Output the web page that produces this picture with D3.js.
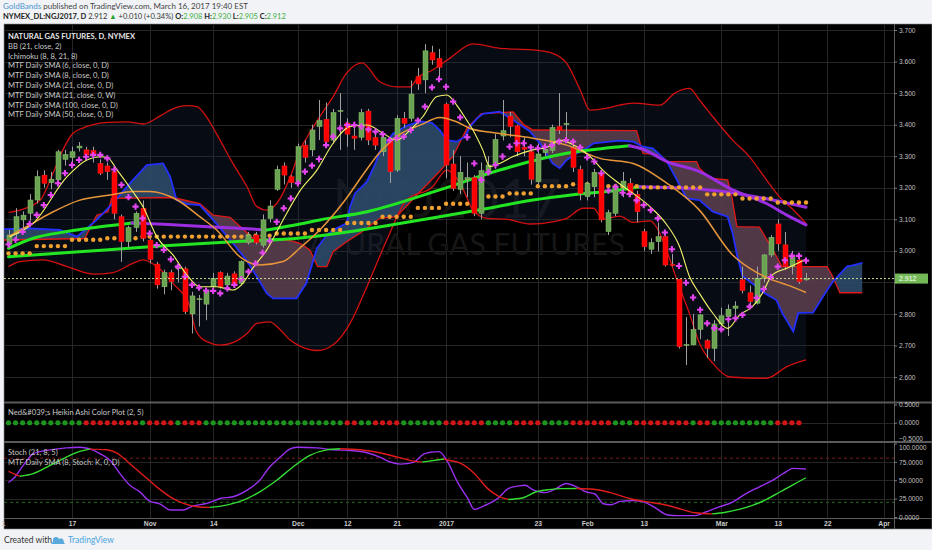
<!DOCTYPE html>
<html><head><meta charset="utf-8">
<script src="https://cdn.jsdelivr.net/npm/d3@7"></script>
<style>body{margin:0;background:#f1f3f6;}svg{display:block}</style>
</head><body>
<svg id="c" width="932" height="550"></svg>
<script>
// ---------- DATA ----------
const opens=[3.022,3.055,3.098,3.119,3.161,3.240,3.216,3.225,3.290,3.296,3.326,3.320,3.318,3.277,3.269,3.251,3.108,3.029,3.074,3.135,3.034,2.958,2.886,2.931,2.943,2.943,2.800,2.845,2.831,2.886,2.931,2.892,2.927,2.897,3.026,3.050,3.018,3.103,3.195,3.269,3.235,3.219,3.335,3.320,3.394,3.417,3.351,3.442,3.405,3.364,3.360,3.443,3.359,3.314,3.349,3.256,3.420,3.420,3.552,3.542,3.628,3.610,3.465,3.275,3.195,3.225,3.232,3.119,3.254,3.277,3.364,3.427,3.396,3.328,3.314,3.219,3.311,3.318,3.394,3.400,3.328,3.258,3.172,3.203,3.246,3.061,3.119,3.203,3.214,3.179,3.061,3.005,3.029,3.045,2.957,2.910,2.700,2.702,2.751,2.715,2.691,2.768,2.791,2.818,2.908,2.867,2.834,2.913,2.987,3.085,3.019,2.950,2.971,2.908];
const highs=[3.066,3.135,3.125,3.180,3.255,3.255,3.250,3.320,3.320,3.330,3.345,3.330,3.330,3.290,3.280,3.260,3.115,3.080,3.125,3.160,3.040,2.965,2.940,2.940,2.960,2.950,2.870,2.860,2.880,2.930,2.935,2.930,2.935,2.970,3.060,3.060,3.115,3.160,3.270,3.280,3.240,3.340,3.350,3.400,3.478,3.470,3.450,3.500,3.420,3.400,3.450,3.450,3.370,3.370,3.360,3.430,3.440,3.540,3.580,3.655,3.650,3.640,3.470,3.320,3.300,3.280,3.240,3.280,3.300,3.370,3.478,3.440,3.400,3.360,3.330,3.340,3.340,3.400,3.500,3.440,3.340,3.270,3.220,3.260,3.250,3.130,3.210,3.250,3.230,3.190,3.070,3.040,3.090,3.050,2.990,2.910,2.790,2.800,2.800,2.720,2.780,2.820,2.830,2.840,2.950,2.890,2.950,2.990,3.050,3.100,3.060,3.000,2.980,2.930];
const lows=[3.008,3.040,3.070,3.095,3.150,3.200,3.195,3.215,3.270,3.280,3.315,3.295,3.280,3.240,3.225,3.100,2.965,3.010,3.060,3.030,2.960,2.880,2.862,2.875,2.900,2.800,2.738,2.760,2.780,2.870,2.880,2.875,2.885,2.890,3.020,3.020,3.010,3.090,3.190,3.210,3.200,3.210,3.280,3.300,3.351,3.335,3.340,3.320,3.330,3.320,3.350,3.335,3.320,3.300,3.215,3.250,3.390,3.410,3.510,3.500,3.590,3.550,3.230,3.190,3.180,3.170,3.110,3.100,3.240,3.260,3.350,3.360,3.300,3.300,3.210,3.210,3.300,3.310,3.370,3.350,3.250,3.160,3.160,3.170,3.090,3.050,3.110,3.170,3.170,3.090,3.000,2.990,2.998,2.950,2.950,2.690,2.638,2.700,2.720,2.660,2.650,2.760,2.730,2.780,2.865,2.820,2.830,2.900,2.980,3.000,2.940,2.925,2.895,2.905];
const closes=[3.050,3.108,3.113,3.161,3.235,3.214,3.227,3.314,3.305,3.314,3.332,3.304,3.306,3.246,3.251,3.119,3.029,3.074,3.119,3.040,2.973,2.892,2.931,2.902,2.952,2.807,2.857,2.848,2.871,2.913,2.886,2.920,2.892,2.966,3.050,3.026,3.098,3.142,3.258,3.240,3.216,3.330,3.296,3.383,3.413,3.346,3.438,3.445,3.370,3.357,3.438,3.351,3.335,3.360,3.251,3.420,3.404,3.497,3.529,3.634,3.605,3.582,3.272,3.198,3.249,3.232,3.119,3.254,3.272,3.353,3.381,3.394,3.314,3.322,3.227,3.307,3.322,3.391,3.383,3.404,3.265,3.182,3.214,3.249,3.098,3.121,3.201,3.221,3.182,3.124,3.013,3.026,3.045,2.955,2.955,2.696,2.703,2.751,2.797,2.691,2.768,2.794,2.815,2.825,2.874,2.839,2.913,2.987,3.043,3.022,2.950,2.979,2.902,2.912];
// MTF SMA(6) crosses, one per bar
const sma6=[3.020,3.035,3.060,3.085,3.114,3.145,3.177,3.214,3.246,3.272,3.288,3.298,3.304,3.304,3.293,3.258,3.209,3.170,3.140,3.103,3.055,3.018,3.003,2.973,2.950,2.918,2.892,2.883,2.874,2.873,2.865,2.881,2.892,2.910,2.934,2.960,2.994,3.032,3.092,3.135,3.166,3.214,3.251,3.270,3.291,3.335,3.362,3.388,3.399,3.399,3.394,3.385,3.378,3.370,3.351,3.357,3.362,3.383,3.413,3.457,3.518,3.544,3.520,3.473,3.423,3.360,3.277,3.225,3.249,3.272,3.299,3.330,3.341,3.341,3.328,3.325,3.330,3.335,3.346,3.351,3.346,3.328,3.296,3.283,3.246,3.191,3.203,3.184,3.180,3.160,3.145,3.129,3.103,3.058,3.005,2.952,2.899,2.852,2.813,2.770,2.755,2.751,2.783,2.786,2.797,2.823,2.851,2.879,2.917,2.950,2.970,2.984,2.984,2.969];
// [bar, value] readings of the indicator lines
const sma8=[[0.2,3.045],[3.5,3.087],[8.3,3.235],[11.1,3.288],[13,3.298],[14,3.296],[15.4,3.256],[17.6,3.188],[19.1,3.138],[21,3.045],[23.3,2.987],[25.3,2.923],[27.1,2.886],[29.5,2.886],[31.8,2.876],[33.2,2.897],[34.6,2.945],[36.6,3.003],[38.9,3.098],[41.3,3.19],[43.7,3.256],[46,3.341],[48.4,3.394],[50.8,3.399],[53.1,3.372],[55,3.351],[56.9,3.383],[58.7,3.425],[60.7,3.489],[62.1,3.494],[63.5,3.462],[64.9,3.415],[65.8,3.383],[67.2,3.32],[68.2,3.267],[69.6,3.277],[71.5,3.299],[74.3,3.32],[76.3,3.328],[78.1,3.351],[80.5,3.33],[82.4,3.299],[84.2,3.256],[86.2,3.219],[88.5,3.182],[90.9,3.14],[93.3,3.082],[95.1,3.013],[96.5,2.918],[97.9,2.865],[99.8,2.802],[101.9,2.754],[103.6,2.797],[105.4,2.823],[106.8,2.865],[108.2,2.923],[110.3,2.945],[113,2.973]];
const sma21=[[0,3.045],[2.6,3.077],[6,3.12],[10,3.16],[14.4,3.177],[17.7,3.188],[20,3.188],[23.9,3.161],[27,3.11],[29.5,3.066],[32.8,2.981],[35.6,2.955],[38.9,2.966],[41.3,3.009],[44.1,3.066],[47.7,3.161],[50.5,3.25],[52.5,3.309],[55.5,3.37],[58.5,3.40],[61.1,3.423],[63.5,3.409],[65.4,3.388],[69.6,3.372],[74.3,3.357],[79.1,3.335],[83.8,3.293],[88.5,3.277],[93.3,3.214],[97.9,3.129],[102.6,2.987],[105,2.945],[108.2,2.908],[110.3,2.892],[113,2.868]];
const sma50=[[0,3.008],[3.5,3.040],[8.3,3.061],[13,3.076],[17.5,3.088],[22,3.084],[27,3.078],[32,3.072],[36.6,3.066],[41.3,3.085],[44.1,3.098],[50.8,3.124],[61.1,3.193],[69.6,3.256],[79.1,3.309],[86.6,3.330],[88,3.333],[89.9,3.322],[93.3,3.283],[97.9,3.251],[102.6,3.193],[107.4,3.15],[110.3,3.113],[113,3.082]];
const sma100=[[0,2.981],[10,2.997],[21.5,3.015],[33,3.03],[41.3,3.041],[48,3.06],[55,3.085],[61.1,3.108],[68,3.135],[74.3,3.161],[80,3.178],[86.6,3.193],[89.5,3.203],[93,3.201],[97,3.197],[101,3.189],[105,3.175],[109,3.158],[113,3.138]];
// MTF weekly SMA(21): first bar of each week and its value
const weekFirstBar=[0,4,9,14,19,24,29,34,38,43,48,53,58,62,66,71,75,80,85,90,95,99,104,109];
const weekSma21=[2.992,3.015,3.035,3.040,3.045,3.045,3.045,3.048,3.055,3.066,3.088,3.108,3.136,3.149,3.172,3.182,3.205,3.211,3.205,3.201,3.201,3.179,3.166,3.153];
const bbUpper=[[0,3.122],[1.6,3.129],[4.5,3.161],[6.3,3.246],[7.7,3.320],[9.1,3.372],[10.6,3.39],[12,3.400],[14,3.407],[16.8,3.409],[19.1,3.402],[21.5,3.428],[23.3,3.450],[25.3,3.460],[26.7,3.457],[28.1,3.423],[29.5,3.370],[31.8,3.277],[33.8,3.203],[35.2,3.140],[36.6,3.129],[38,3.150],[40.3,3.256],[41.3,3.320],[42.3,3.36],[44.1,3.425],[46,3.489],[47.9,3.563],[50.1,3.596],[52.6,3.536],[55,3.520],[56.9,3.520],[57.9,3.547],[60.1,3.573],[62.5,3.610],[65.8,3.656],[69.6,3.642],[74.3,3.637],[77.1,3.626],[79.1,3.594],[81,3.510],[82.4,3.446],[84.8,3.452],[86.6,3.462],[88.5,3.468],[92.3,3.462],[94.4,3.50],[96.5,3.515],[97.9,3.478],[99.8,3.425],[102.6,3.351],[105,3.298],[107.4,3.225],[109.2,3.172],[111.2,3.130],[113,3.087]];
const bbLower=[[0,2.950],[1.6,2.966],[4.9,2.971],[8.3,2.950],[12,2.926],[14.8,2.931],[17.6,2.960],[19.1,2.971],[21,2.950],[23.3,2.897],[25.7,2.823],[26.5,2.75],[28.1,2.712],[30,2.701],[31.8,2.709],[33.8,2.738],[35.2,2.77],[37,2.775],[38.5,2.75],[39.9,2.717],[41.3,2.698],[43.8,2.684],[46,2.702],[48.4,2.770],[50.8,2.887],[53.6,3.034],[56.4,3.161],[60.1,3.203],[62.1,3.256],[64,3.214],[65.8,3.130],[67.8,3.103],[70.6,3.100],[73.9,3.085],[77.1,3.092],[79.1,3.103],[81.4,3.135],[82.9,3.135],[84.2,3.100],[86.6,3.110],[88.5,3.09],[90.9,3.095],[92.3,3.055],[93.3,2.998],[94.7,2.908],[96.5,2.80],[97.9,2.707],[99.8,2.643],[102.2,2.60],[107.4,2.596],[110.3,2.633],[113,2.654]];
const ichiA=[[-1.2,3.068],[3,3.071],[7.3,3.066],[9.7,3.045],[12.5,3.098],[14.8,3.151],[17.2,3.214],[19.6,3.272],[21.9,3.277],[22.9,3.235],[23.8,3.161],[25.3,3.148],[27.1,3.145],[29,3.098],[31.8,3.024],[33.7,2.971],[35.2,2.918],[36.6,2.865],[37.5,2.849],[40.8,2.849],[42.2,2.897],[43.7,3.008],[45.1,3.050],[46,3.066],[47.9,3.087],[48.4,3.14],[49.1,3.182],[50.8,3.219],[52,3.277],[52.6,3.314],[54.5,3.372],[56.4,3.396],[58.3,3.41],[60,3.406],[61.1,3.383],[62.1,3.351],[63.5,3.346],[64.7,3.362],[65.4,3.394],[66.4,3.42],[67.2,3.434],[69.6,3.441],[71.5,3.415],[73.9,3.378],[75.3,3.341],[77.1,3.277],[78.1,3.262],[79.1,3.288],[80.5,3.309],[81.9,3.325],[82.9,3.341],[86.6,3.349],[88.5,3.346],[89.9,3.330],[91.3,3.325],[93.3,3.283],[94.7,3.225],[96.1,3.166],[97.9,3.161],[99.8,3.124],[101.9,3.108],[102.6,3.056],[103.2,2.99],[104,2.92],[106,2.886],[106.8,2.87],[108.8,2.844],[109.7,2.80],[111.2,2.744],[111.9,2.803],[114,2.804],[116,2.876],[116.8,2.902],[118.8,2.950],[119.6,2.954],[121,2.962]];
const ichiB=[[-1.2,3.034],[10.8,3.039],[12.5,3.113],[14.1,3.124],[14.6,3.166],[23.3,3.169],[27.1,3.150],[29,3.113],[31.4,3.106],[34.7,3.039],[39.9,3.032],[41.3,3.024],[42.7,3.003],[43.8,2.950],[45.1,2.950],[46,2.997],[47.9,3.029],[49.8,3.056],[52.6,3.103],[55,3.108],[58,3.18],[61,3.25],[63,3.30],[65,3.39],[67,3.435],[71.5,3.44],[73,3.40],[74.3,3.383],[89,3.381],[89.9,3.309],[92.3,3.304],[93.3,3.283],[97.5,3.283],[97.9,3.262],[99.4,3.230],[101.9,3.225],[102.5,3.172],[103.2,3.077],[106.4,3.075],[108.2,3.008],[109.6,2.950],[116,2.950],[116.8,2.918],[117.8,2.867],[121,2.867]];
// Heikin Ashi colour per bar
const haColors="GGGGGGGGGGGRRRRRRRRGRRRRGRRRGGGGGGGGGGGGGGGGGGGGRRGGRRRRGGGGGGRRRRRRGGGGRRRRGGGGRRRRRRGGGRRRRRRRRGRRGGGGGGGGGRRRR".split("");
const stochK=[[0,47],[0.7,52.3],[2.1,70.3],[3.5,86],[5.9,91.4],[8.2,94.1],[10.1,95],[11.5,92.8],[13,86],[14.4,77],[15.8,59],[17.2,43.2],[18.6,34.2],[20,21.6],[21.5,17.6],[22.9,9.5],[24.7,9.5],[26.1,14.9],[28.1,18.5],[30,25.2],[31.8,27.5],[33.8,36.5],[35.6,50],[37,68],[38.5,81.5],[39.9,92.8],[40.9,95],[43.7,94.1],[46,91.4],[48.4,90.5],[50.8,87.4],[52.6,81.5],[54.1,74.8],[55.5,72],[57.4,74.4],[58.8,85.4],[59.8,88.1],[61,89],[62.2,75.3],[63.6,47.8],[65.1,24.9],[66,10.3],[67.5,15.7],[69.4,25.8],[70.8,38.6],[72.3,42.3],[73.2,43.2],[74.2,37.7],[76.1,33.1],[77.6,38.6],[79,45.5],[80.5,41],[81.9,34],[83.1,31.3],[84.3,18],[85.3,16.6],[86.7,21.2],[88.6,22.5],[90.1,20.3],[91.5,13.4],[93.4,2.8],[94.9,1.9],[97.3,1.9],[98.7,6.5],[100.6,13.4],[102.6,20.3],[104.5,31.8],[106.4,41],[108.3,50.1],[109.8,59.3],[111.2,66.2],[113,65.3]];
const stochSma=[[0,62],[1.6,55.4],[3.5,59],[5.9,70.3],[8.2,81.5],[10.1,89.2],[11.5,92.3],[13.9,91.4],[15.3,87.4],[17.2,72.5],[19.1,56.8],[21,41],[22.9,27.5],[24.8,18.5],[26.7,14],[28.5,13.1],[30.9,16.2],[33.3,23],[35.6,34.2],[38,50],[40.3,68],[42.7,83.8],[45.1,91.4],[47,92.8],[49.8,91.4],[52.6,87.4],[55.5,80.5],[57.9,75.3],[58.6,74.6],[61.7,79],[62.2,77.6],[64.1,73],[66,59.3],[67.9,38.6],[69.4,28.5],[70.8,23.9],[72.8,25.8],[74.7,34],[76.6,37.3],[78.5,38.6],[80.5,38.8],[82.9,37.7],[85.3,33.1],[88.1,24.9],[90.1,21.2],[93,16.6],[95.4,10.3],[97.3,5.7],[99.7,4.2],[101.6,6.5],[103.5,10.3],[105.4,15.7],[107.4,23.9],[109.3,34],[111.2,44.2],[113,53.4]];
const priceTicks=[2.6,2.7,2.8,2.9,3.0,3.1,3.2,3.3,3.4,3.5,3.6,3.7];
const haTicks=[0.5,0,-0.5];
const stochTicks=[100,75,50,25,0];
const xTickLabels=["1","17","Nov","14","Dec","12","21","2017","23","Feb","13","Mar","13","22","Apr"];
const xTickBars=[-0.78,9,20,29,41,48,55,62,75,82,90,101,109,116,124];
const lastPrice=2.912;
const legendLines=["BB (21, close, 2)","Ichimoku (8, 8, 21, 8)","MTF Daily SMA (6, close, 0, D)","MTF Daily SMA (8, close, 0, D)","MTF Daily SMA (21, close, 0, D)","MTF Daily SMA (21, close, 0, W)","MTF Daily SMA (100, close, 0, D)","MTF Daily SMA (50, close, 0, D)"];

// ---------- LAYOUT ----------
const W=932,H=550,L=4,R=894,T=24,MB=401;
const FONT="Lato, 'Liberation Sans', sans-serif";
const svg=d3.select("#c");
const x=d3.scaleLinear().domain([0,113]).range([8.5,806]);
const y=d3.scaleLinear().domain([2.6,3.7]).range([377,30]);
const yHA=d3.scaleLinear().domain([-0.5,0.5]).range([441,404.5]);
const yS=d3.scaleLinear().domain([0,100]).range([517,443.5]);

svg.append("rect").attr("width",W).attr("height",H).attr("fill","#f1f3f6");
svg.append("rect").attr("x",L).attr("y",T).attr("width",W-L).attr("height",529-T).attr("fill","#000").attr("stroke","#8a8a8a").attr("stroke-width",0.6);

const defs=svg.append("defs");
defs.append("clipPath").attr("id","cm").append("rect").attr("x",L).attr("y",T).attr("width",R-L).attr("height",MB-T);
defs.append("clipPath").attr("id","cs").append("rect").attr("x",L).attr("y",443).attr("width",R-L).attr("height",75);

// grid
const grid=svg.append("g").attr("stroke","#262626").attr("stroke-width",1);
xTickBars.slice(1).forEach(b=>grid.append("line").attr("x1",Math.round(x(b))+0.5).attr("x2",Math.round(x(b))+0.5).attr("y1",T).attr("y2",518));
priceTicks.forEach(p=>grid.append("line").attr("x1",L).attr("x2",R).attr("y1",Math.round(y(p))+0.5).attr("y2",Math.round(y(p))+0.5));
[75,50,25].forEach(v=>grid.append("line").attr("x1",L).attr("x2",R).attr("y1",Math.round(yS(v))+0.5).attr("y2",Math.round(yS(v))+0.5));
grid.append("line").attr("x1",L).attr("x2",R).attr("y1",Math.round(yHA(0))+0.5).attr("y2",Math.round(yHA(0))+0.5);

// watermark
svg.append("text").attr("x",447).attr("y",218).attr("text-anchor","middle").attr("font-family",FONT).attr("font-size",54).attr("fill","#131313").text("NGJ2017");
svg.append("text").attr("x",455).attr("y",255).attr("text-anchor","middle").attr("font-family",FONT).attr("font-size",30).attr("fill","#161616").text("NATURAL GAS FUTURES");

const gm=svg.append("g").attr("clip-path","url(#cm)");
const X=d=>x(d[0]), Y=d=>y(d[1]);
const lineM=d3.line().x(X).y(Y).curve(d3.curveMonotoneX);
const lineL=d3.line().x(X).y(Y);

// BB background
const bbPoly=lineL(bbUpper)+"L"+lineL(bbLower.slice().reverse()).slice(1)+"Z";
gm.append("path").attr("d",bbPoly).attr("fill","#1a3050").attr("opacity",0.25);

// Ichimoku cloud (difference fill)
const clipAbove=d3.area().x(X).y0(0).y1(Y);
const clipBelow=d3.area().x(X).y0(H).y1(Y);
defs.append("clipPath").attr("id","ca").append("path").attr("d",clipAbove(ichiA));
defs.append("clipPath").attr("id","cb").append("path").attr("d",clipBelow(ichiA));
gm.append("g").attr("clip-path","url(#ca)").append("path").attr("d",d3.area().x(X).y0(H).y1(Y)(ichiB)).attr("fill","#5a3d4d").attr("opacity",0.9);
gm.append("g").attr("clip-path","url(#cb)").append("path").attr("d",d3.area().x(X).y0(0).y1(Y)(ichiB)).attr("fill","#2c4a69").attr("opacity",0.9);
gm.append("path").attr("d",lineL(ichiB)).attr("fill","none").attr("stroke","#e01818").attr("stroke-width",1.3);
gm.append("path").attr("d",lineL(ichiA)).attr("fill","none").attr("stroke","#2430ff").attr("stroke-width",1.8);

// Bollinger lines
[bbUpper,bbLower].forEach(s=>gm.append("path").attr("d",lineM(s)).attr("fill","none").attr("stroke","#d41010").attr("stroke-width",1.3));

// slope-coloured lines
function runs(pts){const out=[];let cur=[pts[0]],dir=null;for(let k=1;k<pts.length;k++){const d=pts[k][1]>=pts[k-1][1]?1:-1;if(dir===null||d===dir){cur.push(pts[k]);dir=d;}else{out.push({dir,pts:cur});cur=[pts[k-1],pts[k]];dir=d;}}out.push({dir,pts:cur});return out;}
[sma100,sma50].forEach(s=>runs(s).forEach(r=>gm.append("path").attr("d",lineM(r.pts)).attr("fill","none").attr("stroke",r.dir>0?"#22e622":"#9b2ee0").attr("stroke-width",3).attr("stroke-linecap","round")));

// weekly SMA dots
const wk=d3.range(114).map(i=>{let w=0;weekFirstBar.forEach((b,k)=>{if(i>=b)w=k;});return [i,weekSma21[w]];});
gm.append("g").selectAll("circle").data(wk).join("circle").attr("cx",X).attr("cy",Y).attr("r",2.2).attr("fill","#f0a030");

// candles
const bars=opens.map((o,i)=>({i,o,h:highs[i],l:lows[i],c:closes[i]}));
const cg=gm.append("g");
cg.selectAll("line").data(bars).join("line").attr("x1",d=>Math.round(x(d.i))+0.5).attr("x2",d=>Math.round(x(d.i))+0.5).attr("y1",d=>y(d.h)).attr("y2",d=>y(d.l)).attr("stroke","#a0a0a0").attr("stroke-width",1);
cg.selectAll("rect").data(bars).join("rect").attr("x",d=>Math.round(x(d.i))-2).attr("width",5)
 .attr("y",d=>y(Math.max(d.o,d.c))).attr("height",d=>Math.max(1,Math.abs(y(d.o)-y(d.c))))
 .attr("fill",d=>d.c>=d.o?"#6aa352":"#ff0000").attr("stroke",d=>d.c>=d.o?"#8cc06e":"#ff2020").attr("stroke-width",0.5);

// thin SMAs
gm.append("path").attr("d",lineM(sma21)).attr("fill","none").attr("stroke","#e8963a").attr("stroke-width",1.5);
gm.append("path").attr("d",lineM(sma8)).attr("fill","none").attr("stroke","#f5f56a").attr("stroke-width",1.1);
// SMA6 crosses
gm.append("g").selectAll("path").data(sma6.map((v,i)=>[i,v])).join("path").attr("d",d3.symbol(d3.symbolCross,22)()).attr("transform",d=>`translate(${x(d[0])},${y(d[1])})`).attr("fill","#e545f0");

// last price line
gm.append("line").attr("x1",L).attr("x2",R).attr("y1",y(lastPrice)).attr("y2",y(lastPrice)).attr("stroke","#c8dc8c").attr("stroke-dasharray","2,2").attr("stroke-width",1);

// legend
const lg=svg.append("g").attr("font-family",FONT).attr("font-size",7.6);
lg.append("text").attr("x",8).attr("y",39).attr("fill","#e6e6e6").attr("font-weight","bold").text("NATURAL GAS FUTURES, D, NYMEX");
legendLines.forEach((t,k)=>lg.append("text").attr("x",8).attr("y",48.8+k*9.8).attr("fill","#c8c8c8").text(t));

// panel separators
[[401.5,2],[441,2]].forEach(([yy,h])=>svg.append("rect").attr("x",L).attr("y",yy).attr("width",W-L).attr("height",h).attr("fill","#5a5a5a"));
svg.append("line").attr("x1",L).attr("x2",W).attr("y1",518.5).attr("y2",518.5).attr("stroke","#5a5a5a");
svg.append("line").attr("x1",R+0.5).attr("x2",R+0.5).attr("y1",T).attr("y2",529).attr("stroke","#5a5a5a");

// Heikin Ashi panel
svg.append("text").attr("x",8).attr("y",415).attr("font-family",FONT).attr("font-size",7.6).attr("fill","#c8c8c8").text("Ned&#039;s Heikin Ashi Color Plot (2, 5)");
svg.append("g").selectAll("circle").data(haColors.map((c,i)=>({i,c}))).join("circle").attr("cx",d=>x(d.i)).attr("cy",yHA(0)).attr("r",2.6).attr("fill",d=>d.c==="G"?"#1c951c":"#d01616");

// Stoch panel
const gs=svg.append("g").attr("clip-path","url(#cs)");
gs.append("line").attr("x1",L).attr("x2",R).attr("y1",yS(80)).attr("y2",yS(80)).attr("stroke","#7a1c1c").attr("stroke-dasharray","3,3");
gs.append("line").attr("x1",L).attr("x2",R).attr("y1",yS(20)).attr("y2",yS(20)).attr("stroke","#1c6e1c").attr("stroke-dasharray","3,3");
const lineS=d3.line().x(X).y(d=>yS(d[1])).curve(d3.curveMonotoneX);
gs.append("path").attr("d",lineS(stochK)).attr("fill","none").attr("stroke","#9a30f0").attr("stroke-width",1.4);
runs(stochSma).forEach(r=>gs.append("path").attr("d",lineS(r.pts)).attr("fill","none").attr("stroke",r.dir>0?"#33dd33":"#e01c1c").attr("stroke-width",1.4));
const sl=svg.append("g").attr("font-family",FONT).attr("font-size",7.6).attr("fill","#c8c8c8");
sl.append("text").attr("x",8).attr("y",454.5).text("Stoch (21, 8, 5)");
sl.append("text").attr("x",8).attr("y",464.5).text("MTF Daily SMA (8, Stoch: K, 0, D)");

// right axes
function rAxis(scale,ticks,fmt){
  const g=svg.append("g").attr("transform",`translate(${R},0)`).call(d3.axisRight(scale).tickValues(ticks).tickFormat(d3.format(fmt)).tickSize(3).tickPadding(2));
  g.select(".domain").remove();
  g.selectAll("line").attr("stroke","#777");
  g.selectAll("text").attr("fill","#c0c0c0").attr("font-family","'Liberation Sans', sans-serif").attr("font-size",6.6);
  return g;
}
const pa=rAxis(y,priceTicks,".3f");
// the tick label hidden behind the last-price tag
pa.selectAll(".tick").filter(d=>Math.abs(y(d)-y(lastPrice))<7).select("text").remove();
const ha=rAxis(yHA,haTicks,".4f");
ha.selectAll(".tick").filter(d=>d===-0.5).select("text").attr("y",-2.2);
const sa=rAxis(yS,stochTicks,".4f");
sa.selectAll(".tick").filter(d=>d===100).select("text").attr("y",3.4);
// last price tag
svg.append("rect").attr("x",R+1).attr("y",y(lastPrice)-5).attr("width",33).attr("height",10).attr("fill","#74b957");
svg.append("text").attr("x",R+5).attr("y",y(lastPrice)+2.4).attr("font-family","'Liberation Sans', sans-serif").attr("font-size",7).attr("fill","#fff").text(d3.format(".3f")(lastPrice));

// x axis
const xa=svg.append("g").attr("transform","translate(0,519)").call(d3.axisBottom(x).tickValues(xTickBars).tickFormat((d,i)=>xTickLabels[i]).tickSize(0).tickPadding(2.5));
xa.select(".domain").remove();
xa.selectAll("text").attr("fill","#c8c8c8").attr("font-family","'Liberation Sans', sans-serif").attr("font-size",6.8).attr("font-weight","bold");

// header
const h1=svg.append("text").attr("x",3).attr("y",8.8).attr("font-family",FONT).attr("font-size",8);
h1.append("tspan").attr("fill","#4c96d2").text("GoldBands");
h1.append("tspan").attr("fill","#444").text(" published on TradingView.com, March 16, 2017 19:40 EST");
const h2=svg.append("text").attr("x",3).attr("y",19).attr("font-family",FONT).attr("font-size",7.5).attr("fill","#333");
h2.append("tspan").attr("font-weight","bold").attr("fill","#222").text("NYMEX_DL:NGJ2017, D");
h2.append("tspan").text(" 2.912 ");
h2.append("tspan").attr("fill","#2aa52a").text("▲");
h2.append("tspan").text(" +0.010 (+0.34%) ");
[["O:","2.908"],["H:","2.930"],["L:","2.905"],["C:","2.912"]].forEach(([k,v],j)=>{
  h2.append("tspan").attr("font-weight","bold").attr("fill","#222").text((j?" ":"")+k);
  h2.append("tspan").attr("fill","#3fae3f").text(v);
});

// footer
svg.append("text").attr("x",4).attr("y",543).attr("font-family",FONT).attr("font-size",8.5).attr("fill","#333").text("Created with");
const logo=svg.append("g").attr("fill","#5aa9dd");
logo.append("path").attr("d","M51,544 l4,-5 l3,3 l3,-4 l4,6 z");
logo.append("circle").attr("cx",56).attr("cy",540).attr("r",3);
logo.append("circle").attr("cx",61).attr("cy",541).attr("r",2.6);
svg.append("text").attr("x",68).attr("y",543).attr("font-family",FONT).attr("font-size",8.5).attr("fill","#4aa3df").text("TradingView");
</script>
</body></html>
